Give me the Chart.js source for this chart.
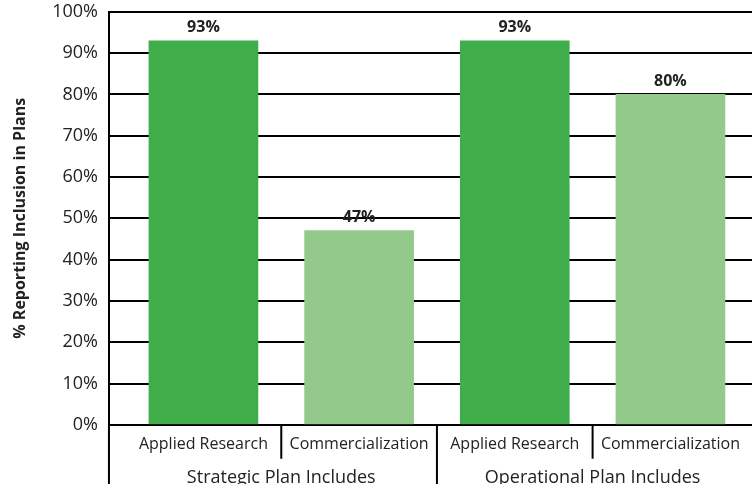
<!DOCTYPE html>
<html>
<head>
<meta charset="utf-8">
<script src="https://cdn.jsdelivr.net/npm/chart.js@4.4.1/dist/chart.umd.min.js"></script>
<style>
  body { margin: 0; background: #fff; overflow: hidden; }
  #wrap { width: 752px; height: 494px; margin-top: -10px; }
</style>
</head>
<body>
<div id="wrap"><canvas id="planChart"></canvas></div>
<script>
const categories = ['Applied Research', 'Commercialization', 'Applied Research', 'Commercialization'];
const groups = ['Strategic Plan Includes', 'Operational Plan Includes'];
const values = [93, 47, 93, 80];
const barColors = ['#3fae4a', '#93c98b', '#3fae4a', '#93c98b'];
const yTicks = [0, 10, 20, 30, 40, 50, 60, 70, 80, 90, 100];

const FONT = '"Open Sans", "DejaVu Sans", sans-serif';

// value labels above each bar
const barLabels = {
  id: 'barLabels',
  afterDatasetsDraw(chart) {
    const ctx = chart.ctx;
    const meta = chart.getDatasetMeta(0);
    ctx.save();
    ctx.font = 'bold 16px ' + FONT;
    ctx.fillStyle = '#222';
    ctx.textAlign = 'center';
    ctx.textBaseline = 'bottom';
    meta.data.forEach((bar, i) => {
      ctx.fillText(values[i] + '%', bar.x, bar.y - 5);
    });
    ctx.restore();
  }
};

// separators and group labels under the x axis
const groupAxis = {
  id: 'groupAxis',
  afterDraw(chart) {
    const ctx = chart.ctx;
    const x = chart.scales.x;
    const area = chart.chartArea;
    const h = chart.height;
    ctx.save();
    ctx.strokeStyle = '#000';
    ctx.lineWidth = 2;
    ctx.beginPath();
    ctx.moveTo(area.left, area.bottom);
    ctx.lineTo(area.left, h);
    [1.5, 3.5].forEach(v => {
      const px = x.getPixelForValue(v);
      ctx.moveTo(px, area.bottom);
      ctx.lineTo(px, area.bottom + 34);
    });
    const mid = x.getPixelForValue(2.5);
    ctx.moveTo(mid, area.bottom);
    ctx.lineTo(mid, h);
    ctx.stroke();

    ctx.font = '18px ' + FONT;
    ctx.fillStyle = '#222';
    ctx.textAlign = 'center';
    ctx.textBaseline = 'alphabetic';
    groups.forEach((g, i) => {
      ctx.fillText(g, x.getPixelForValue(1.5 + i * 2), h - 1);
    });
    ctx.restore();
  }
};

new Chart(document.getElementById('planChart'), {
  type: 'bar',
  data: {
    datasets: [{
      data: values.map((v, i) => ({ x: i + 1, y: v })),
      backgroundColor: barColors,
      barThickness: 109
    }]
  },
  options: {
    responsive: true,
    maintainAspectRatio: false,
    animation: false,
    layout: { padding: { left: 11, right: 0, top: 0, bottom: 20 } },
    plugins: {
      legend: { display: false },
      tooltip: { enabled: false }
    },
    scales: {
      x: {
        type: 'linear',
        offset: false,
        min: 0.393,
        max: 4.524,
        afterBuildTicks(scale) {
          scale.ticks = categories.map((c, i) => ({ value: i + 1 }));
        },
        ticks: {
          autoSkip: false,
          maxRotation: 0,
          padding: 10,
          color: '#222',
          font: { family: FONT, size: 16 },
          callback: (v, i) => categories[i]
        },
        grid: { display: false, drawTicks: false },
        border: { display: true, color: '#000', width: 2 }
      },
      y: {
        min: 0,
        max: 100,
        afterBuildTicks(scale) {
          scale.ticks = yTicks.map(v => ({ value: v }));
        },
        ticks: {
          padding: 11,
          color: '#222',
          font: { family: FONT, size: 18 },
          callback: v => v + '%'
        },
        grid: { color: '#000', lineWidth: 2, drawTicks: false },
        border: { display: true, color: '#000', width: 2 },
        title: {
          display: true,
          text: '% Reporting Inclusion in Plans',
          color: '#222',
          font: { family: FONT, size: 16, weight: 'bold' },
          padding: { top: 0, bottom: 11 }
        }
      }
    }
  },
  plugins: [barLabels, groupAxis]
});
</script>
</body>
</html>
